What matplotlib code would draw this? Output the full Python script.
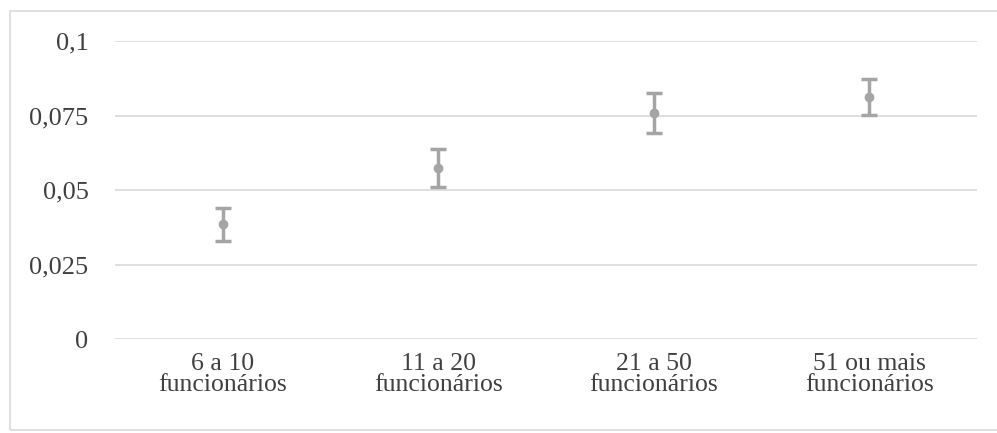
import matplotlib
matplotlib.use("Agg")
import matplotlib.pyplot as plt
from matplotlib.patches import Rectangle
from matplotlib.ticker import FixedLocator

categories = ["6 a 10\nfuncionários", "11 a 20\nfuncionários", "21 a 50\nfuncionários", "51 ou mais\nfuncionários"]
means = [0.0385, 0.0575, 0.0757, 0.0812]
errors = [0.0055, 0.0064, 0.0067, 0.0060]
yticks = [0, 0.025, 0.05, 0.075, 0.1]
ytick_labels = ["0", "0,025", "0,05", "0,075", "0,1"]

plt.rcParams['font.family'] = ['Liberation Serif', 'DejaVu Serif']

fig = plt.figure(figsize=(9.97, 4.33), dpi=100)
ax = fig.add_axes([115/997, 94/433, 862/997, 298/433])

x = list(range(len(categories)))
ax.errorbar(x, means, yerr=errors, fmt='o', color='#A5A5A5', ecolor='#A5A5A5',
            elinewidth=2.5, capsize=5.5, capthick=2.5, markersize=6, zorder=3)

ax.set_xlim(-0.5, len(categories) - 0.5)
ax.set_ylim(0, 0.1)
ax.yaxis.set_major_locator(FixedLocator(yticks))
ax.set_yticklabels(ytick_labels)
ax.set_xticks(x)
ax.set_xticklabels(categories)
ax.grid(axis='y', color='#D9D9D9', linewidth=1.2)
ax.set_axisbelow(True)
for s in ax.spines.values():
    s.set_visible(False)
ax.tick_params(axis='both', length=0, colors='#404040')
ax.tick_params(axis='y', pad=19, labelsize=19)
ax.tick_params(axis='x', pad=10, labelsize=18.5)
for lbl in ax.get_xticklabels():
    lbl.set_linespacing(0.97)

fig.patches.append(Rectangle((10/997, 3/433), 990/997, 419/433, transform=fig.transFigure,
                             fill=False, edgecolor='#D9D9D9', linewidth=1.2))

fig.savefig("out.png", dpi=100)
